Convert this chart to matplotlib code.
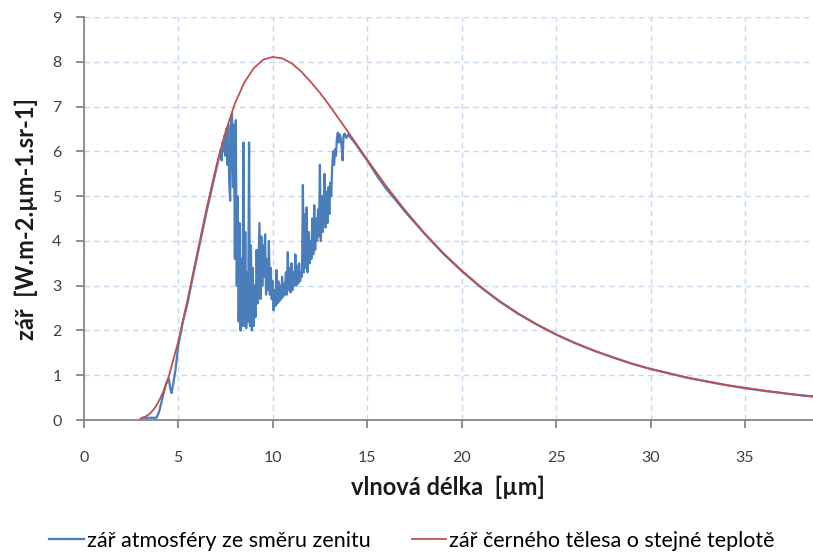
import matplotlib
matplotlib.use("Agg")
import matplotlib.pyplot as plt

plt.rcParams['font.family'] = ['Lato', 'DejaVu Sans']

# záření atmosféry (modrá)
atm_wl = [3.0, 3.1, 3.5, 3.85, 4.0, 4.2, 4.35, 4.5, 4.58, 4.65, 4.75, 4.85, 5.0, 5.25, 5.5, 5.75,
          6.0, 6.25, 6.5, 6.75, 7.0, 7.15, 7.25, 7.3, 7.35, 7.4, 7.45, 7.5, 7.55, 7.6, 7.65, 7.7,
          7.75, 7.8, 7.85, 7.9, 7.95, 8.0, 8.05, 8.1, 8.15, 8.2, 8.25, 8.3, 8.35, 8.4, 8.45, 8.5,
          8.55, 8.6, 8.65, 8.7, 8.75, 8.8, 8.85, 8.9, 8.95, 9.0, 9.05, 9.1, 9.15, 9.2, 9.25, 9.3,
          9.35, 9.4, 9.45, 9.5, 9.55, 9.6, 9.65, 9.7, 9.75, 9.8, 9.85, 9.9, 9.95, 10.0, 10.05, 10.1,
          10.15, 10.2, 10.25, 10.3, 10.35, 10.4, 10.45, 10.5, 10.55, 10.6, 10.65, 10.7, 10.75, 10.8,
          10.85, 10.9, 10.95, 11.0, 11.05, 11.1, 11.15, 11.2, 11.25, 11.3, 11.35, 11.4, 11.45, 11.5,
          11.55, 11.6, 11.65, 11.7, 11.75, 11.8, 11.85, 11.9, 11.95, 12.0, 12.05, 12.1, 12.15, 12.2,
          12.25, 12.3, 12.35, 12.4, 12.45, 12.5, 12.55, 12.6, 12.65, 12.7, 12.75, 12.8, 12.85, 12.9,
          12.95, 13.0, 13.05, 13.1, 13.15, 13.2, 13.25, 13.3, 13.35, 13.4, 13.45, 13.5, 13.55, 13.6,
          13.65, 13.7, 13.75, 13.8, 13.9, 14.0, 14.1, 14.2, 14.3, 14.5, 15.0, 15.5, 16.0, 16.5,
          17.0, 17.5, 18.0, 19.0, 20.0, 21.0, 22.0, 23.0, 24.0, 25.0, 26.0, 27.0, 28.0, 29.0,
          30.0, 31.0, 32.0, 33.0, 34.0, 35.0, 36.0, 37.0, 38.0, 39.0]
atm_rad = [0.0, 0.05, 0.05, 0.05, 0.2, 0.55, 0.8, 0.93, 0.7, 0.6, 0.85, 1.1, 1.65, 2.2, 2.62, 3.15,
           3.65, 4.15, 4.65, 5.12, 5.58, 5.85, 6.05, 5.8, 6.2, 6.0, 6.35, 5.9, 6.5, 5.7, 6.6, 5.3,
           4.9, 6.75, 6.85, 5.2, 6.6, 3.6, 6.7, 3.0, 5.0, 2.2, 4.4, 2.0, 3.6, 2.1, 6.2, 2.1,
           4.2, 2.05, 3.3, 2.2, 6.2, 2.1, 3.9, 2.0, 3.4, 2.1, 3.0, 2.3, 3.8, 2.6, 3.5, 4.4,
           2.7, 4.1, 3.0, 3.9, 3.2, 4.15, 2.8, 3.6, 2.9, 4.0, 2.8, 3.4, 2.7, 3.1, 2.45, 2.9,
           2.55, 3.35, 2.6, 3.1, 2.65, 3.0, 2.7, 3.2, 2.75, 3.05, 2.8, 3.3, 2.8, 3.75,
           2.9, 3.4, 2.85, 3.5, 2.9, 3.3, 3.0, 3.7, 3.0, 3.45, 3.05, 3.5, 3.1, 3.3,
           3.2, 5.25, 3.3, 4.6, 3.4, 4.75, 3.3, 4.2, 3.5, 4.0, 3.6, 4.5, 3.7, 4.8,
           3.8, 4.5, 4.0, 4.7, 4.1, 5.7, 4.0, 5.0, 4.2, 4.8, 5.5, 4.3, 5.1, 4.4,
           5.2, 4.6, 5.3, 5.0, 5.65, 6.0, 5.7, 6.05, 5.9, 6.3, 6.42, 6.2, 6.38, 6.3,
           6.1, 5.8, 6.35, 6.4, 6.3, 6.38, 6.32, 6.27, 6.22, 6.1, 5.8, 5.47, 5.17, 4.92,
           4.66, 4.42, 4.18, 3.73, 3.33, 2.97, 2.65, 2.37, 2.13, 1.91, 1.72, 1.55, 1.40, 1.26,
           1.14, 1.04, 0.94, 0.86, 0.78, 0.71, 0.65, 0.60, 0.55, 0.51]

# záření černého tělesa (červená)
bb_wl = [3.0, 3.25, 3.5, 3.75, 4.0, 4.25, 4.5, 4.75, 5.0, 5.5, 6.0, 6.5, 7.0, 7.5, 8.0, 8.5, 9.0,
         9.5, 10.0, 10.5, 11.0, 11.5, 12.0, 12.5, 13.0, 13.5, 14.0, 15.0, 16.0, 17.0, 18.0, 19.0,
         20.0, 21.0, 22.0, 23.0, 24.0, 25.0, 26.0, 27.0, 28.0, 29.0, 30.0, 31.0, 32.0, 33.0,
         34.0, 35.0, 36.0, 37.0, 38.0, 39.0]
bb_rad = [0.03, 0.07, 0.14, 0.26, 0.44, 0.67, 0.97, 1.36, 1.75, 2.69, 3.71, 4.72, 5.64, 6.43, 7.07,
          7.54, 7.86, 8.05, 8.11, 8.08, 7.97, 7.79, 7.56, 7.31, 7.03, 6.73, 6.43, 5.82, 5.23, 4.69,
          4.19, 3.74, 3.34, 2.98, 2.66, 2.38, 2.13, 1.91, 1.72, 1.55, 1.40, 1.26, 1.14, 1.04, 0.94,
          0.86, 0.78, 0.72, 0.66, 0.60, 0.55, 0.51]

x_ticks = [0, 5, 10, 15, 20, 25, 30, 35]
y_ticks = [0, 1, 2, 3, 4, 5, 6, 7, 8, 9]

fig = plt.figure(figsize=(8.13, 5.53), dpi=100)
ax = fig.add_axes([0.103, 0.2405, 0.897, 0.7285])

ax.plot(atm_wl, atm_rad, color='#4a7ebb', lw=1.6, label='zář atmosféry ze směru zenitu')
ax.plot(bb_wl, bb_rad, color='#c0504d', lw=1.3, label='zář černého tělesa o stejné teplotě')

ax.set_xlim(0, 38.6)
ax.set_ylim(0, 9)
ax.set_xticks(x_ticks)
ax.set_yticks(y_ticks)
ax.grid(True, color='#c6d9f1', linestyle=(0, (4, 3)), lw=1)
ax.set_axisbelow(True)

for s in ['top', 'right']:
    ax.spines[s].set_visible(False)
for s in ['left', 'bottom']:
    ax.spines[s].set_color('#868686')
    ax.spines[s].set_linewidth(1.3)
ax.tick_params(axis='x', colors='#868686', length=6, width=1.3, pad=16, labelcolor='#404040', labelsize=11.5)
ax.tick_params(axis='y', colors='#868686', length=6, width=1.3, pad=10, labelcolor='#404040', labelsize=11.5)

ax.set_xlabel('vlnová délka  [µm]', fontsize=17, fontweight='bold', color='#1a1a1a', labelpad=8)
ax.set_ylabel('zář  [W.m-2.µm-1.sr-1]', fontsize=17, fontweight='bold', color='#1a1a1a', labelpad=10)

fig.legend(loc='center left', bbox_to_anchor=(0.05, 0.022), ncol=2, frameon=False,
           fontsize=15.5, handlelength=1.6, handletextpad=0.15, columnspacing=1.9, borderaxespad=0)

fig.savefig('out.png', dpi=100)
